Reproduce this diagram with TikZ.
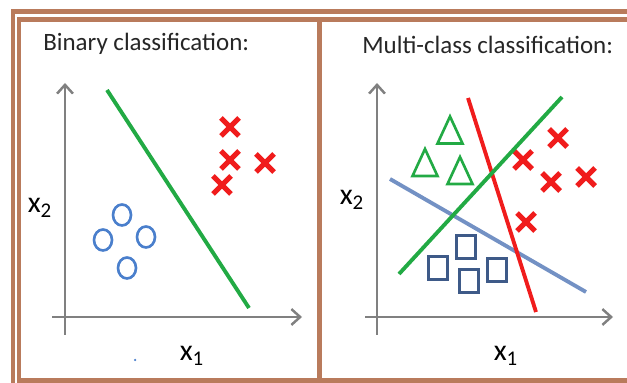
\documentclass[tikz,border=0pt]{standalone}
\usepackage{fontspec}
\setmainfont{Carlito}
\usepackage{tikz}
\usetikzlibrary{arrows.meta}
\definecolor{marco}{HTML}{B97B5C}
\definecolor{eje}{HTML}{808080}
\definecolor{verde}{HTML}{22AA44}
\definecolor{rojo}{HTML}{F01C1C}
\definecolor{azul}{HTML}{4A7FCC}
\definecolor{gris}{HTML}{7391C4}
\definecolor{marino}{HTML}{3E5A88}

\begin{document}
\begin{tikzpicture}[axis/.style={eje,line width=1.4pt,-{Straight Barb[length=5pt,width=9pt]}},
  sep/.style={line width=2.2pt},
  cruz/.style={rojo,line width=3pt},
  lab/.style={inner sep=1pt,font=\fontsize{17}{18}\selectfont},
  tit/.style={inner sep=0pt,anchor=west,text=black!85,font=\fontsize{14.2}{16}\selectfont}]
  \useasboundingbox (0,0) rectangle (12.54,7.66);
  \clip (0,0) rectangle (12.54,7.66);
  % marco doble
  \draw[marco,line width=2.55pt] (0.26,-1) -- (0.26,7.43) -- (13,7.43);
  \draw[marco,line width=2.55pt] (13,7.27) -- (0.38,7.27) -- (0.38,0.05) -- (13,0.05);
  \draw[marco,line width=2.55pt] (6.39,7.27) -- (6.39,0.05);
  % izquierda
  \begin{scope}
   \node[tit] (t1) at (0.86,6.78) {Binary classification:};
   \draw[axis] (1.30,0.96) -- (1.30,6.0);
   \draw[axis] (1.04,1.32) -- (6.04,1.32);
   \node[lab] (y1) at (0.80,3.50) {x\textsubscript{2}};
   \node[lab] (x1) at (3.84,0.54) {x\textsubscript{1}};
   \draw[verde,sep] (2.14,5.86) -- (4.98,1.50);
   \foreach \p in {(2.44,3.36),(2.06,2.86),(2.92,2.92),(2.54,2.30)}
     \draw[azul,line width=1.5pt] \p ellipse (0.18 and 0.21);
   \foreach \p in {(4.60,5.12),(4.60,4.46),(5.30,4.40),(4.44,3.96)}
     \draw[cruz] \p ++(-0.18,-0.18) -- ++(0.36,0.36) ++(-0.36,0) -- ++(0.36,-0.36);
   \fill[azul] (2.70,0.46) circle (0.025);
  \end{scope}
  % derecha
  \begin{scope}[xshift=6.24cm]
   \node[tit] (t2) at (1.00,6.76) {Multi-class classification:};
   \draw[axis] (1.30,0.96) -- (1.30,6.0);
   \draw[axis] (1.06,1.32) -- (6.02,1.32);
   \node[lab] (y2) at (0.80,3.66) {x\textsubscript{2}};
   \node[lab] (x2) at (3.88,0.54) {x\textsubscript{1}};
   \foreach \p in {(2.76,4.79),(2.26,4.14),(2.96,3.98)}
     \draw[verde,line width=1.5pt] \p ++(-0.25,0) -- ++(0.50,0) -- ++(-0.25,0.54) -- cycle;
   \foreach \p in {(2.52,2.30),(3.08,2.72),(3.14,2.04),(3.70,2.26)}
     \draw[marino,line width=1.5pt] \p ++(-0.185,-0.235) rectangle ++(0.37,0.47);
   \foreach \p in {(4.92,4.90),(4.22,4.46),(4.78,4.02),(5.48,4.12),(4.28,3.22)}
     \draw[cruz] \p ++(-0.18,-0.18) -- ++(0.36,0.36) ++(-0.36,0) -- ++(0.36,-0.36);
   \draw[gris,sep] (1.56,4.08) -- (5.48,1.82);
   \draw[rojo,sep] (3.12,5.70) -- (4.48,1.42);
   \draw[verde,sep] (5.00,5.72) -- (1.74,2.18);
  \end{scope}
\end{tikzpicture}
\end{document}
